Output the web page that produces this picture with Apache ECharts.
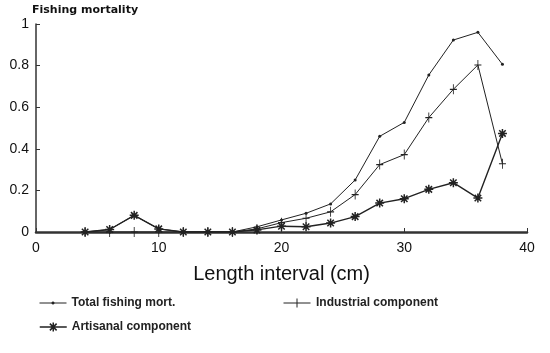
<!DOCTYPE html>
<html>
<head>
<meta charset="utf-8">
<script src="https://cdn.jsdelivr.net/npm/echarts@6/dist/echarts.min.js"></script>
<style>
  html, body { margin: 0; padding: 0; background: #fff; }
  #chart { width: 550px; height: 353px; }
</style>
</head>
<body>
<div id="chart"></div>
<script>
// length classes (cm)
const lengths = [4, 6, 8, 10, 12, 14, 16, 18, 20, 22, 24, 26, 28, 30, 32, 34, 36, 38];
const totalMort = [0, 0.012, 0.08, 0.015, 0, 0, 0, 0.025, 0.058, 0.09, 0.135, 0.25, 0.46, 0.527, 0.755, 0.923, 0.96, 0.806];
const industrial = [0, 0, 0, 0, 0, 0, 0, 0.015, 0.045, 0.066, 0.097, 0.18, 0.324, 0.372, 0.55, 0.686, 0.803, 0.328];
const artisanal = [0, 0.012, 0.08, 0.015, 0, 0, 0, 0.01, 0.028, 0.025, 0.043, 0.074, 0.139, 0.16, 0.205, 0.237, 0.163, 0.474];
const yTicks = [0, 0.2, 0.4, 0.6, 0.8, 1];

const ink = '#222';
const font = 'Liberation Sans';
const asterisk = 'path://M0,-5L0,5M-5,0L5,0M-3.6,-3.6L3.6,3.6M-3.6,3.6L3.6,-3.6';
const plus = 'path://M0,-5L0,5M-3,0L3,0';
// legend keys: a line with the marker in its middle
const keyTotal = 'path://M-12,0L12,0M-0.8,-0.8L0.8,-0.8L0.8,0.8L-0.8,0.8Z';
const keyPlus = 'path://M-12,0L12,0M0,-4L0,4';
const keyStar = 'path://M-12,0L12,0M0,-4L0,4M-3,-3L3,3M-3,3L3,-3';

function pairs(vals) {
    return lengths.map((x, i) => [x, vals[i]]);
}

const chart = echarts.init(document.getElementById('chart'));
const legendText = { color: ink, fontFamily: font, fontSize: 12, fontWeight: 'bold' };
const legendKey = { color: ink, borderColor: ink, borderWidth: 1 };
chart.setOption({
    animation: false,
    grid: { left: 36, right: 23, top: 24, bottom: 121 },
    xAxis: {
        type: 'value',
        min: 0, max: 40, interval: 10,
        name: 'Length interval (cm)',
        nameLocation: 'middle',
        nameGap: 32,
        nameTextStyle: { color: '#111', fontFamily: font, fontSize: 20 },
        axisLine: { lineStyle: { color: '#333', width: 2.5 } },
        axisTick: { inside: true, length: 4, lineStyle: { color: '#333' } },
        axisLabel: { color: '#111', fontFamily: font, fontSize: 14, margin: 9 },
        splitLine: { show: false }
    },
    yAxis: {
        type: 'value',
        min: 0, max: 1, interval: 0.2,
        name: 'Fishing mortality',
        nameLocation: 'end',
        nameGap: 8,
        nameTextStyle: { color: '#111', fontFamily: 'DejaVu Sans', fontSize: 11, fontWeight: 'bold', align: 'left', padding: [0, 0, 0, -4] },
        axisLine: { show: true, lineStyle: { color: '#333', width: 1.5 } },
        axisTick: { inside: true, length: 4, lineStyle: { color: '#333' } },
        axisLabel: {
            color: '#111', fontFamily: font, fontSize: 14, margin: 7,
            formatter: v => yTicks.includes(+v.toFixed(1)) ? String(+v.toFixed(1)) : ''
        },
        splitLine: { show: false }
    },
    legend: [
        { data: [{ name: 'Total fishing mort.', icon: keyTotal }], left: 39, top: 297, padding: 0, itemWidth: 27, itemHeight: 9, itemStyle: legendKey, textStyle: legendText },
        { data: [{ name: 'Industrial component', icon: keyPlus }], left: 283, top: 297, padding: 0, itemWidth: 28, itemHeight: 9, itemStyle: legendKey, textStyle: legendText },
        { data: [{ name: 'Artisanal component', icon: keyStar }], left: 39, top: 321, padding: 0, itemWidth: 27, itemHeight: 9, itemStyle: { color: ink, borderColor: ink, borderWidth: 1.5 }, textStyle: legendText }
    ],
    series: [
        {
            name: 'Total fishing mort.',
            type: 'line',
            data: pairs(totalMort),
            symbol: 'circle',
            symbolSize: 3,
            lineStyle: { color: ink, width: 1 },
            itemStyle: { color: ink }
        },
        {
            name: 'Industrial component',
            type: 'line',
            data: pairs(industrial),
            symbol: plus,
            symbolSize: [7, 10],
            lineStyle: { color: ink, width: 1 },
            itemStyle: { color: ink, borderColor: ink, borderWidth: 1 }
        },
        {
            name: 'Artisanal component',
            type: 'line',
            data: pairs(artisanal),
            symbol: asterisk,
            symbolSize: 9,
            lineStyle: { color: ink, width: 1.4 },
            itemStyle: { color: ink, borderColor: ink, borderWidth: 1.5 }
        }
    ]
});
</script>
</body>
</html>
